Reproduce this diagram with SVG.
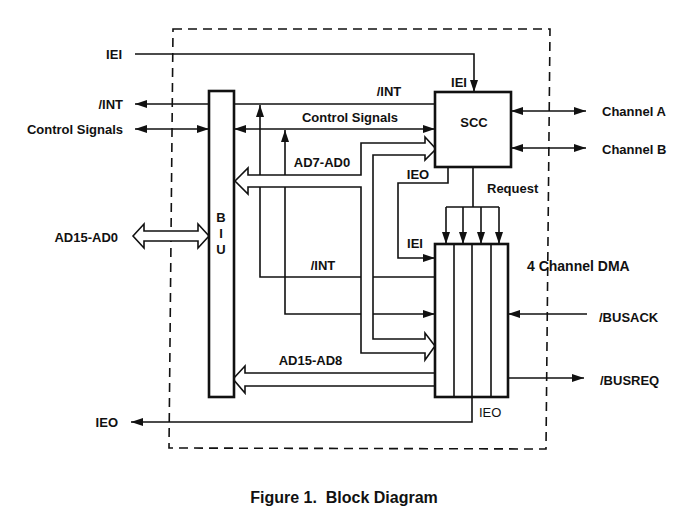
<svg xmlns="http://www.w3.org/2000/svg" width="699" height="512" viewBox="0 0 699 512">
<style>
text{font-family:"Liberation Sans",Arial,sans-serif;font-weight:bold;font-size:13px;fill:#111}
.ln{fill:none;stroke:#111;stroke-width:1.6}
.box{fill:#fff;stroke:#111;stroke-width:2.6}
.bus{fill:#fff;stroke:#111;stroke-width:1.6;stroke-linejoin:miter}
.dash{fill:none;stroke:#111;stroke-width:1.6;stroke-dasharray:9 6}
.e{text-anchor:end}
.m{text-anchor:middle}
</style>
<defs>
<marker id="ah" viewBox="0 0 12 8" refX="12" refY="4" markerWidth="12" markerHeight="8" orient="auto-start-reverse" markerUnits="userSpaceOnUse">
<path d="M0,0 L12,4 L0,8 z" fill="#111"/>
</marker>
</defs>
<rect width="699" height="512" fill="#fff"/>
<path class="dash" d="M173,29 L550,29 L546,449 L169,448 Z"/>
<g id="connectors">
<path class="ln" d="M135,54 H474 V92" marker-end="url(#ah)"/>
<path class="ln" d="M209,104 H135" marker-end="url(#ah)"/>
<path class="ln" d="M135,129 H209" marker-start="url(#ah)" marker-end="url(#ah)"/>
<path class="ln" d="M234,104 H435"/>
<path class="ln" d="M234,129 H435" marker-start="url(#ah)" marker-end="url(#ah)"/>
<path class="ln" d="M260,105 V277 H435" marker-start="url(#ah)"/>
<path class="ln" d="M285,130 V314 H435" marker-start="url(#ah)" marker-end="url(#ah)"/>
<path class="ln" d="M473,167 V207 M446,207 H499"/>
<path class="ln" d="M446,207 V244" marker-end="url(#ah)"/>
<path class="ln" d="M463,207 V244" marker-end="url(#ah)"/>
<path class="ln" d="M481,207 V244" marker-end="url(#ah)"/>
<path class="ln" d="M499,207 V244" marker-end="url(#ah)"/>
<path class="ln" d="M448,167 V183 H398 V258 H435" marker-end="url(#ah)"/>
<path class="ln" d="M511,111 H586" marker-start="url(#ah)" marker-end="url(#ah)"/>
<path class="ln" d="M511,148 H586" marker-start="url(#ah)" marker-end="url(#ah)"/>
<path class="ln" d="M587,314 H508" marker-end="url(#ah)"/>
<path class="ln" d="M508,378 H584" marker-end="url(#ah)"/>
<path class="ln" d="M472,397 V422 H131" marker-end="url(#ah)"/>
<polygon class="bus" points="235,181 248,168 248,175 361,175 361,143 425,143 425,137 436,149 425,160 425,155 373,155 373,339 425,339 425,333 435,346 425,360 425,353 361,353 361,187 248,187 248,194"/>
<polygon class="bus" points="233,379 245,366 245,373 435,373 435,386 245,386 245,393"/>
<polygon class="bus" points="133,236 144,224 144,231 198,231 198,224 209,236 198,248 198,241 144,241 144,248"/>
</g>
<g id="biu">
<rect class="box" x="209" y="91" width="25" height="306"/>
<text class="m" x="221" y="222">B</text>
<text class="m" x="221" y="238">I</text>
<text class="m" x="221" y="254">U</text>
</g>
<g id="scc">
<rect class="box" x="435" y="92" width="76" height="75"/>
<text class="m" x="474" y="127">SCC</text>
</g>
<g id="dma">
<rect class="box" x="435" y="244" width="73" height="153"/>
<path class="ln" d="M454,244 V397 M472,244 V397 M491,244 V397"/>
</g>
<g id="labels">
<text class="e" x="122" y="59">IEI</text>
<text class="e" x="123" y="108.5">/INT</text>
<text class="e" x="123" y="133.5">Control Signals</text>
<text class="e" x="118" y="242">AD15-AD0</text>
<text class="e" x="118" y="427">IEO</text>
<text class="m" x="389" y="96">/INT</text>
<text class="m" x="350" y="122">Control Signals</text>
<text class="m" x="459" y="87">IEI</text>
<text class="m" x="322" y="167">AD7-AD0</text>
<text class="m" x="418" y="179">IEO</text>
<text x="487" y="193">Request</text>
<text class="m" x="415" y="248">IEI</text>
<text class="m" x="323" y="270">/INT</text>
<text x="527" y="271" style="font-size:14px">4 Channel DMA</text>
<text class="m" x="310.5" y="365">AD15-AD8</text>
<text x="479" y="417" style="font-weight:normal">IEO</text>
<text x="602" y="116">Channel A</text>
<text x="602" y="154">Channel B</text>
<text x="599" y="321.5">/BUSACK</text>
<text x="600" y="385">/BUSREQ</text>
<text class="m" x="344" y="503" style="font-size:16px" xml:space="preserve">Figure 1.  Block Diagram</text>
</g>
</svg>
